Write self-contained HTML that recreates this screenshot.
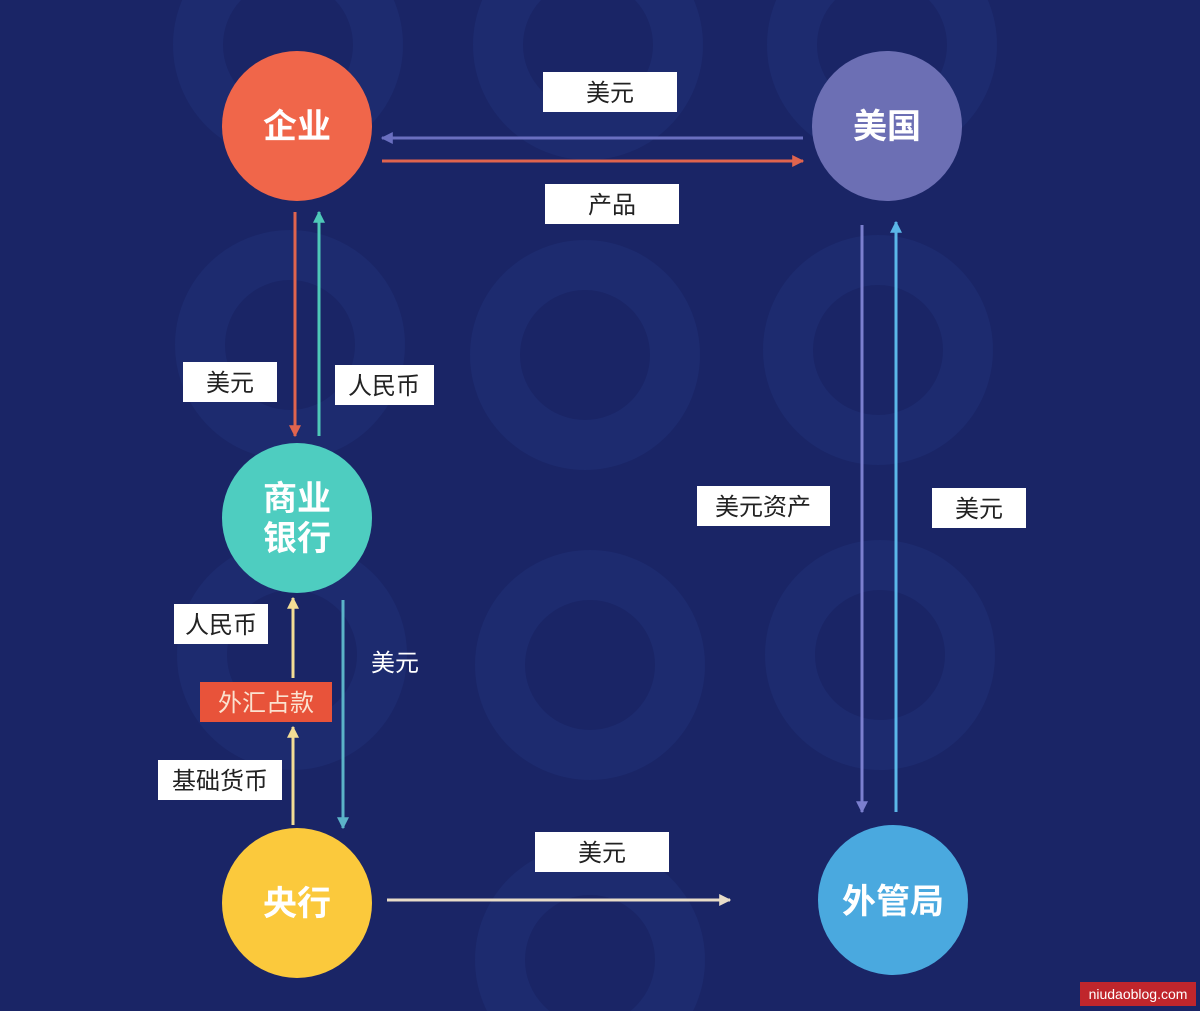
<!DOCTYPE html>
<html><head><meta charset="utf-8"><style>
html,body{margin:0;padding:0;background:#1a2566;}
svg{display:block}
text{font-family:"Liberation Sans","Noto Sans CJK SC",sans-serif;}
</style></head><body>
<svg width="1200" height="1011" viewBox="0 0 1200 1011" xmlns="http://www.w3.org/2000/svg">
<defs>
<marker id="a" viewBox="0 0 10 10" refX="9" refY="5" markerWidth="4" markerHeight="4" orient="auto-start-reverse"><path d="M0,0L10,5L0,10z" fill="context-stroke"/></marker>
</defs>
<rect width="1200" height="1011" fill="#1a2566"/>
<g fill="none" stroke="#1d2b6f" stroke-width="50">
<circle cx="288" cy="45" r="90"/><circle cx="588" cy="45" r="90"/><circle cx="882" cy="45" r="90"/>
<circle cx="290" cy="345" r="90"/><circle cx="585" cy="355" r="90"/><circle cx="878" cy="350" r="90"/>
<circle cx="292" cy="655" r="90"/><circle cx="590" cy="665" r="90"/><circle cx="880" cy="655" r="90"/>
<circle cx="590" cy="960" r="90"/>
</g>
<g stroke-width="3">
<line x1="803" y1="138" x2="382" y2="138" stroke="#6a6fc0" marker-end="url(#a)"/>
<line x1="382" y1="161" x2="803" y2="161" stroke="#e0644e" marker-end="url(#a)"/>
<line x1="295" y1="212" x2="295" y2="436" stroke="#e0644e" marker-end="url(#a)"/>
<line x1="319" y1="436" x2="319" y2="212" stroke="#4ec9b8" marker-end="url(#a)"/>
<line x1="293" y1="678" x2="293" y2="598" stroke="#f3dd95" marker-end="url(#a)"/>
<line x1="293" y1="825" x2="293" y2="727" stroke="#f3dd95" marker-end="url(#a)"/>
<line x1="343" y1="600" x2="343" y2="828" stroke="#5bb3c8" marker-end="url(#a)"/>
<line x1="862" y1="225" x2="862" y2="812" stroke="#7b7fcf" marker-end="url(#a)"/>
<line x1="896" y1="812" x2="896" y2="222" stroke="#5bb7e8" marker-end="url(#a)"/>
<line x1="387" y1="900" x2="730" y2="900" stroke="#e8dcc8" marker-end="url(#a)"/>
</g>
<circle cx="297" cy="126" r="75" fill="#f0664a"/>
<circle cx="887" cy="126" r="75" fill="#6c6fb4"/>
<circle cx="297" cy="518" r="75" fill="#4ecdc0"/>
<circle cx="297" cy="903" r="75" fill="#fbc93c"/>
<circle cx="893" cy="900" r="75" fill="#4aa9df"/>
<g fill="#fff" font-size="34" text-anchor="middle" font-weight="bold">
<text x="297" y="138">企业</text>
<text x="887" y="138">美国</text>
<text x="297" y="510">商业</text>
<text x="297" y="550">银行</text>
<text x="297" y="915">央行</text>
<text x="893" y="913">外管局</text>
</g>
<g fill="#fff">
<rect x="543" y="72" width="134" height="40"/><rect x="545" y="184" width="134" height="40"/>
<rect x="183" y="362" width="94" height="40"/><rect x="335" y="365" width="99" height="40"/>
<rect x="697" y="486" width="133" height="40"/><rect x="932" y="488" width="94" height="40"/>
<rect x="174" y="604" width="94" height="40"/><rect x="158" y="760" width="124" height="40"/>
<rect x="535" y="832" width="134" height="40"/>
</g>
<rect x="200" y="682" width="132" height="40" fill="#e8533a"/>
<g fill="#222" font-size="24" text-anchor="middle">
<text x="610" y="101">美元</text><text x="612" y="213">产品</text>
<text x="230" y="391">美元</text><text x="384" y="394">人民币</text>
<text x="763" y="515">美元资产</text><text x="979" y="517">美元</text>
<text x="221" y="633">人民币</text><text x="220" y="789">基础货币</text>
<text x="602" y="861">美元</text>
</g>
<text x="266" y="711" fill="#fbe2d0" font-size="24" text-anchor="middle">外汇占款</text>
<text x="395" y="671" fill="#fff" font-size="24" text-anchor="middle">美元</text>
<rect x="1080" y="982" width="116" height="24" fill="#c0262c"/>
<text x="1138" y="999" fill="#fff" font-size="14" text-anchor="middle">niudaoblog.com</text>
</svg>
</body></html>
